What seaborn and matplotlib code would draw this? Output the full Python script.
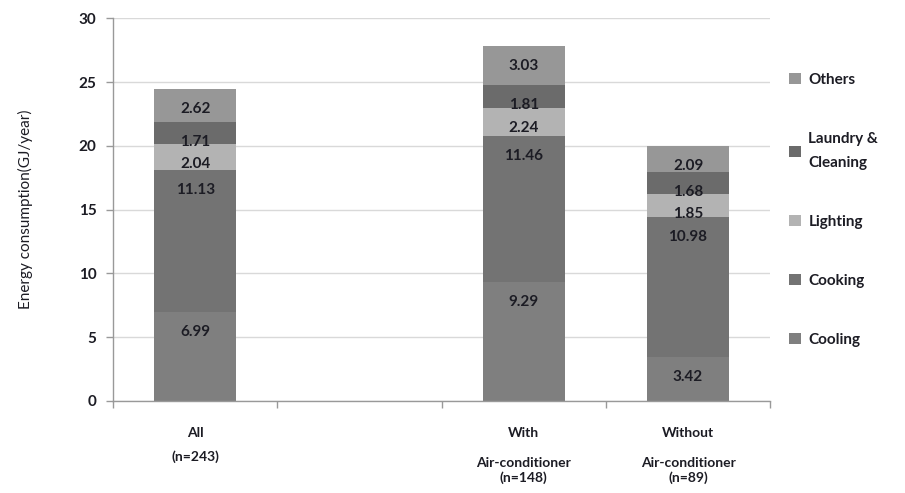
import numpy as np
import pandas as pd
import matplotlib
matplotlib.use("Agg")
import matplotlib.pyplot as plt
from matplotlib.patches import Patch
import seaborn as sns

# Household groups (the second slot on the axis is left empty)
groups = ["All", "With AC", "Without AC"]
slot_order = ["All", "gap", "With AC", "Without AC"]
tick_labels = ["All\n(n=243)", "",
               "With\n\nAir-conditioner\n(n=148)",
               "Without\n\nAir-conditioner\n(n=89)"]

# Annual energy consumption by end use (GJ/year)
end_uses = ["Cooling", "Cooking", "Lighting", "Laundry &\nCleaning", "Others"]
cooling = [6.99, 9.29, 3.42]
cooking = [11.13, 11.46, 10.98]
lighting = [2.04, 2.24, 1.85]
laundry = [1.71, 1.81, 1.68]
others = [2.62, 3.03, 2.09]

colors = ["#7f7f7f", "#737373", "#b3b3b3", "#6b6b6b", "#979797"]
text_color = "#1c1c24"

series = [cooling, cooking, lighting, laundry, others]
df = pd.DataFrame({"group": groups})
for name, vals in zip(end_uses, series):
    df[name] = vals
tops = np.cumsum(np.array(series), axis=0)
for name, top in zip(end_uses, tops):
    df[name + "_top"] = top

sns.set_theme(style="white")
plt.rcParams["font.family"] = ["Lato", "DejaVu Sans"]

fig = plt.figure(figsize=(9.05, 4.93), dpi=100)
ax = fig.add_axes([0.125, 0.187, 0.726, 0.776])
ax.set_axisbelow(True)
ax.yaxis.grid(True, color="#d9d9d9", lw=1)

# Stack by overlaying cumulative totals, tallest layer first
for name, col in reversed(list(zip(end_uses, colors))):
    sns.barplot(data=df, x="group", y=name + "_top", order=slot_order,
                color=col, saturation=1, width=0.5, ax=ax, errorbar=None,
                linewidth=0)

# Value labels just inside the top of each segment
for i, g in enumerate(groups):
    xpos = slot_order.index(g)
    for j, vals in enumerate(series):
        ax.annotate(f"{vals[i]:.2f}", xy=(xpos, tops[j][i]),
                    xytext=(0, -14.5), textcoords="offset points",
                    ha="center", va="center", fontsize=11,
                    fontweight="bold", color=text_color)

ax.set_xlim(-0.5, 3.5)
ax.set_ylim(0, 30)
ax.set_yticks(np.arange(0, 31, 5))
ax.set_xticks(range(len(slot_order)))
ax.set_xticklabels(tick_labels, fontsize=10, fontweight="bold",
                   linespacing=1.28, color=text_color)
ax.get_xticklabels()[0].set_linespacing(2.1)
ax.set_xticks(np.arange(-0.5, 3.6, 1), minor=True)
ax.tick_params(axis="x", which="major", length=0, pad=19)
ax.tick_params(axis="x", which="minor", bottom=True, length=5,
               color="#999999", width=1)
ax.tick_params(axis="y", left=True, length=5, color="#999999", width=1,
               labelsize=11, pad=7, labelcolor=text_color)
for lbl in ax.get_yticklabels():
    lbl.set_fontweight("bold")

ax.set_xlabel("")
ax.set_ylabel("Energy consumption(GJ/year)", fontsize=11, labelpad=33,
              color=text_color)

for side in ["top", "right"]:
    ax.spines[side].set_visible(False)
for side in ["left", "bottom"]:
    ax.spines[side].set_color("#999999")
    ax.spines[side].set_linewidth(1)

handles = [Patch(facecolor=c, edgecolor="none", label=n)
           for n, c in zip(end_uses, colors)][::-1]
leg = ax.legend(handles=handles, loc="upper left",
                bbox_to_anchor=(0.872, 0.852), bbox_transform=fig.transFigure,
                frameon=False, fontsize=11, labelspacing=2.95,
                handlelength=0.75, handleheight=0.75, handletextpad=0.5,
                borderpad=0, borderaxespad=0)
for t in leg.get_texts():
    t.set_fontweight("bold")
    t.set_color(text_color)
    t.set_linespacing(1.9)

fig.savefig("out.png", dpi=100)
